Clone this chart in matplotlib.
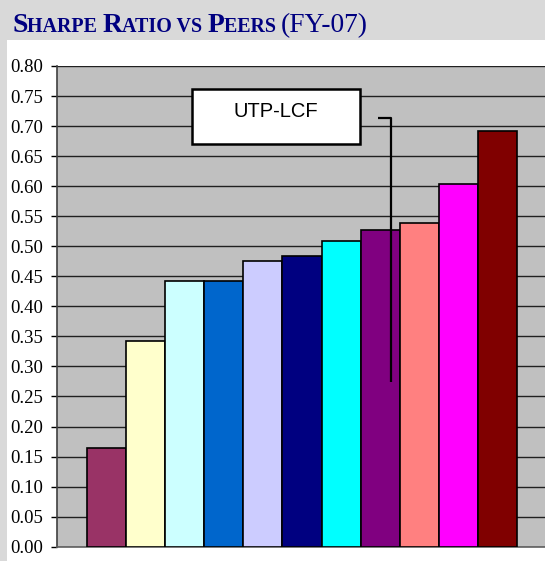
import matplotlib

matplotlib.use("Agg")

import matplotlib.pyplot as plt
from matplotlib.patches import Rectangle

# Sharpe ratio of each peer fund, FY-07 (sorted ascending)
values = [0.164, 0.342, 0.443, 0.443, 0.475, 0.483, 0.508, 0.527, 0.538, 0.603, 0.691]
colors = ["#993366", "#FFFFCC", "#CCFFFF", "#0066CC", "#CCCCFF", "#000080",
          "#00FFFF", "#800080", "#FF8080", "#FF00FF", "#800000"]
yticks = [i * 0.05 for i in range(17)]
callout_label = "UTP-LCF"
callout_index = 7

W, H = 545, 561
fig = plt.figure(figsize=(W / 100, H / 100), dpi=100)
fig.patch.set_facecolor("#D9D9D9")

# white page area below the banner
fig.patches.append(Rectangle((7 / W, 0), 1, (H - 40) / H, transform=fig.transFigure,
                             facecolor="white", edgecolor="none", zorder=-5))

ax = fig.add_axes([57 / W, (H - 546.7) / H, 490 / W, 480.7 / H])
ax.set_zorder(2)
ax.set_facecolor("#C0C0C0")

x = list(range(len(values)))
ax.bar(x, values, width=1.0, color=colors, edgecolor="black", linewidth=1.2, zorder=3)

ax.set_ylim(0, 0.8)
ax.set_xlim(-1.27, 11.27)
ax.set_yticks(yticks)
ax.set_yticklabels([f"{v:.2f}" for v in yticks], family="Liberation Serif", fontsize=13.5)
ax.set_xticks([])
ax.yaxis.grid(True, color="#202020", linewidth=1.0, zorder=1)
ax.tick_params(axis="y", direction="out", length=4, width=1, pad=6, colors="black")
for side in ("top", "right"):
    ax.spines[side].set_visible(False)
ax.spines["left"].set_color("#404040")
ax.spines["left"].set_linewidth(1.2)
ax.spines["bottom"].set_color("#606060")
ax.spines["bottom"].set_linewidth(1.2)

# callout box and leader line
ax.add_patch(Rectangle((2.185, 0.671), 4.295, 0.09, facecolor="white",
                       edgecolor="black", linewidth=1.8, zorder=6))
ax.text(4.33, 0.7245, callout_label, family="Liberation Sans", fontsize=14.5,
        ha="center", va="center", zorder=7)
lead_x = callout_index + 0.27
ax.plot([6.94, lead_x, lead_x], [0.714, 0.714, 0.274],
        color="black", linewidth=1.6, zorder=5, solid_capstyle="butt")

# title in small caps, built from pieces
pieces = [("S", 19.8, "bold"), ("HARPE ", 14.4, "bold"), ("R", 19.8, "bold"),
          ("ATIO VS ", 14.4, "bold"), ("P", 19.8, "bold"), ("EERS ", 14.4, "bold"),
          ("(FY-07)", 19.8, "normal")]
renderer = fig.canvas.get_renderer()
xpos = 12 / W
for txt, size, weight in pieces:
    t = fig.text(xpos, (H - 32) / H, txt, family="Liberation Serif", fontsize=size,
                 fontweight=weight, color="#000080", ha="left", va="baseline")
    bb = t.get_window_extent(renderer=renderer)
    xpos = bb.x1 / W

fig.savefig("out.png", dpi=100)
